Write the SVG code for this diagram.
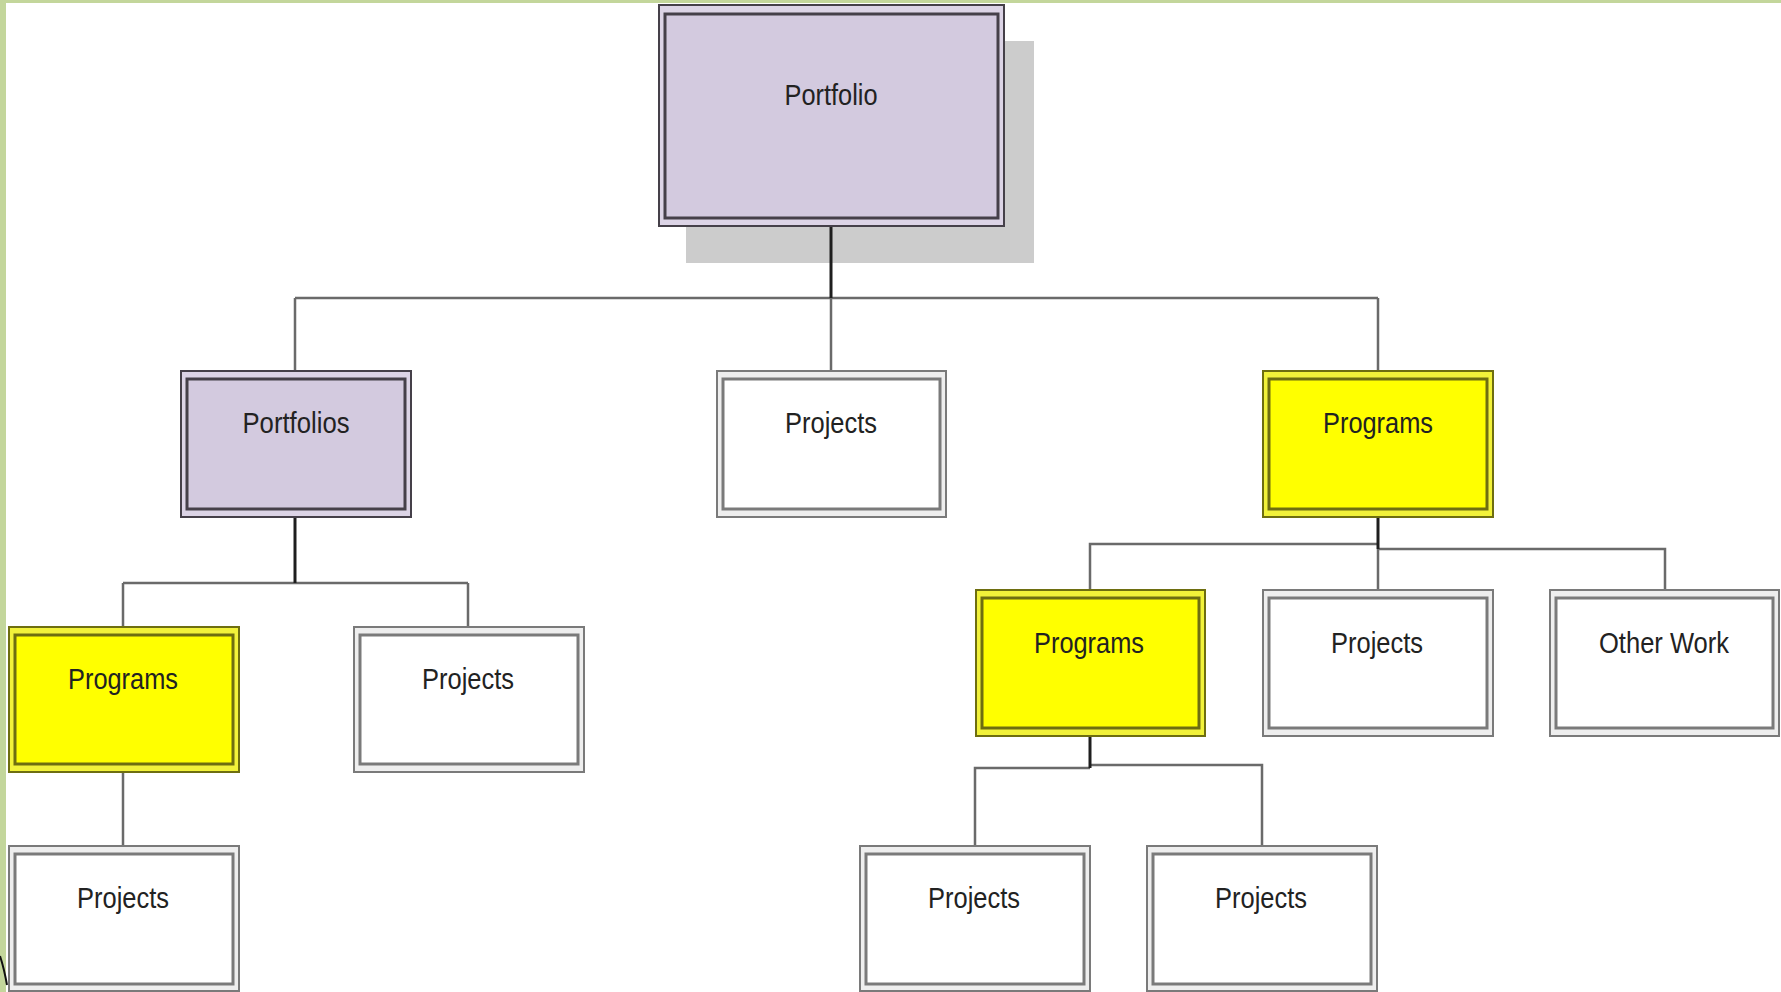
<svg xmlns="http://www.w3.org/2000/svg" width="1781" height="992" viewBox="0 0 1781 992">
<style>
.o{stroke-width:2}
.i{stroke-width:3}
.pur .o,.pur .i{fill:#d3cadf;stroke:#454049}
.yel .o,.yel .i{fill:#ffff00;stroke:#6e6e10}
.wht .o,.wht .i{fill:#ffffff;stroke:#7a7a7a}
.pur .o{fill:#dcd4e6}
.yel .o{fill:#f2f23a}
.wht .o{fill:#eeeeee}
text{font-family:"Liberation Sans",Arial,sans-serif;font-size:30px;fill:#222;text-anchor:middle}
.c{fill:none;stroke:#6a6a6a;stroke-width:2.5}
.k{fill:none;stroke:#1e1e1e;stroke-width:3}
</style>
<rect x="0" y="0" width="1781" height="992" fill="#ffffff"/>
<rect x="0" y="0" width="1781" height="3" fill="#c3d69b"/>
<rect x="0" y="0" width="6" height="992" fill="#c3d69b"/>
<path d="M0 956 Q4 968 7 985" fill="none" stroke="#111" stroke-width="2"/>
<rect x="686" y="41" width="348" height="222" fill="#cccccc"/>
<g id="connectors">
<path class="c" d="M295 298 H1378 M295 298 V371 M831 298 V371 M1378 298 V371"/>
<path class="k" d="M831 226 V298"/>
<path class="c" d="M123 583 H468 M123 583 V627 M468 583 V627"/>
<path class="k" d="M295 517 V583"/>
<path class="c" d="M123 772 V846"/>
<path class="c" d="M1378 544 H1090 V589 M1378 549 H1665 V589 M1378 549 V589"/>
<path class="k" d="M1378 517 V549"/>
<path class="c" d="M1090 768 H975 V846 M1090 765 H1262 V846"/>
<path class="k" d="M1090 736 V768"/>
</g>
<g id="portfolio" class="pur">
<rect class="o" x="659" y="5" width="345" height="221"/>
<rect class="i" x="665" y="14" width="333" height="204"/>
<text x="831" y="105" textLength="93" lengthAdjust="spacingAndGlyphs">Portfolio</text>
</g>
<g id="portfolios" class="pur">
<rect class="o" x="181" y="371" width="230" height="146"/>
<rect class="i" x="187" y="379" width="218" height="130"/>
<text x="296" y="433" textLength="107" lengthAdjust="spacingAndGlyphs">Portfolios</text>
</g>
<g id="projects-mid" class="wht">
<rect class="o" x="717" y="371" width="229" height="146"/>
<rect class="i" x="723" y="379" width="217" height="130"/>
<text x="831" y="433" textLength="92" lengthAdjust="spacingAndGlyphs">Projects</text>
</g>
<g id="programs-right" class="yel">
<rect class="o" x="1263" y="371" width="230" height="146"/>
<rect class="i" x="1269" y="379" width="218" height="130"/>
<text x="1378" y="433" textLength="110" lengthAdjust="spacingAndGlyphs">Programs</text>
</g>
<g id="programs-left" class="yel">
<rect class="o" x="9" y="627" width="230" height="145"/>
<rect class="i" x="15" y="635" width="218" height="129"/>
<text x="123" y="689" textLength="110" lengthAdjust="spacingAndGlyphs">Programs</text>
</g>
<g id="projects-left" class="wht">
<rect class="o" x="354" y="627" width="230" height="145"/>
<rect class="i" x="360" y="635" width="218" height="129"/>
<text x="468" y="689" textLength="92" lengthAdjust="spacingAndGlyphs">Projects</text>
</g>
<g id="projects-bottom-left" class="wht">
<rect class="o" x="9" y="846" width="230" height="145"/>
<rect class="i" x="15" y="854" width="218" height="130"/>
<text x="123" y="908" textLength="92" lengthAdjust="spacingAndGlyphs">Projects</text>
</g>
<g id="programs-sub" class="yel">
<rect class="o" x="976" y="590" width="229" height="146"/>
<rect class="i" x="982" y="598" width="217" height="130"/>
<text x="1089" y="653" textLength="110" lengthAdjust="spacingAndGlyphs">Programs</text>
</g>
<g id="projects-sub" class="wht">
<rect class="o" x="1263" y="590" width="230" height="146"/>
<rect class="i" x="1269" y="598" width="218" height="130"/>
<text x="1377" y="653" textLength="92" lengthAdjust="spacingAndGlyphs">Projects</text>
</g>
<g id="other-work" class="wht">
<rect class="o" x="1550" y="590" width="229" height="146"/>
<rect class="i" x="1556" y="598" width="217" height="130"/>
<text x="1664" y="653" textLength="130" lengthAdjust="spacingAndGlyphs">Other Work</text>
</g>
<g id="projects-bottom-1" class="wht">
<rect class="o" x="860" y="846" width="230" height="145"/>
<rect class="i" x="866" y="854" width="218" height="130"/>
<text x="974" y="908" textLength="92" lengthAdjust="spacingAndGlyphs">Projects</text>
</g>
<g id="projects-bottom-2" class="wht">
<rect class="o" x="1147" y="846" width="230" height="145"/>
<rect class="i" x="1153" y="854" width="218" height="130"/>
<text x="1261" y="908" textLength="92" lengthAdjust="spacingAndGlyphs">Projects</text>
</g>
</svg>
